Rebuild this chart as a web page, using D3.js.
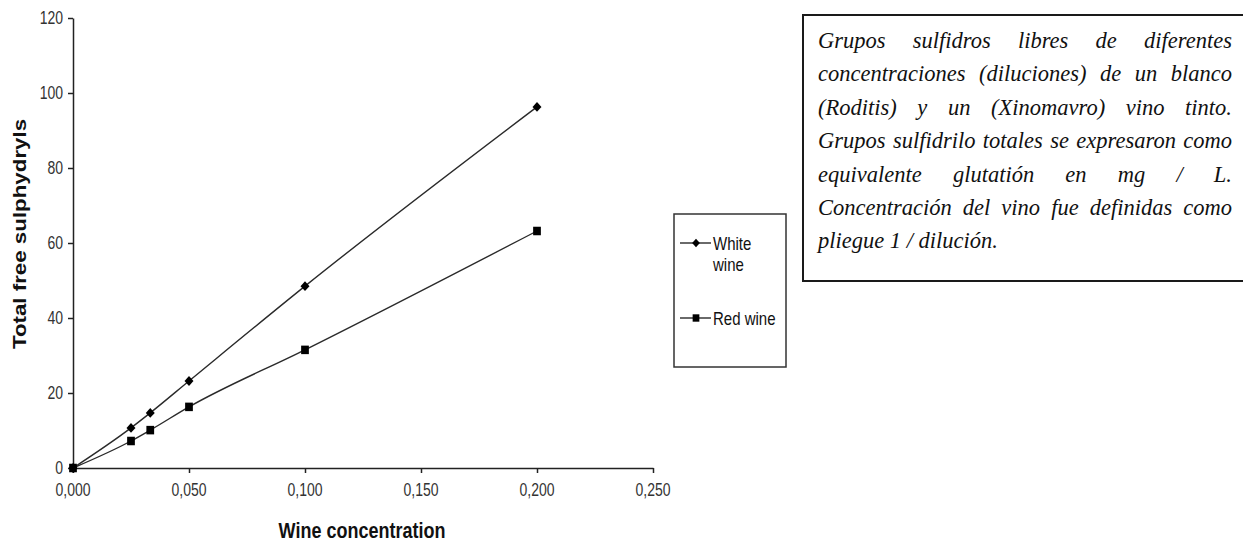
<!DOCTYPE html>
<html>
<head>
<meta charset="utf-8">
<script src="https://cdn.jsdelivr.net/npm/d3@7"></script>
<style>
  html, body { margin: 0; padding: 0; background: #fff; overflow: hidden; }
  #wrap { position: relative; width: 1243px; height: 543px; }
  svg { position: absolute; left: 0; top: 0; }
  #note {
    position: absolute; left: 802px; top: 14px; width: 480px; height: 268px;
    border: 2px solid #1a1a1a; box-sizing: border-box;
  }
  #noteText {
    position: absolute; left: 818px; top: 24px; width: 414px;
    font-family: "Liberation Serif", "Times New Roman", serif; font-style: italic;
    font-size: 22.5px; line-height: 33.4px; color: #111;
  }
  #noteText div { text-align: justify; text-align-last: justify; white-space: nowrap; }
  #noteText div.last { text-align: left; text-align-last: left; }
</style>
</head>
<body>
<div id="wrap">
  <svg id="chart" width="1243" height="543"></svg>
  <div id="note"></div>
  <div id="noteText"></div>
</div>
<script>
// ---- data ----
const concentrations = [0, 0.025, 0.0333, 0.05, 0.1, 0.2];
const whiteWine = [0, 10.7, 14.7, 23.2, 48.5, 96.3];
const redWine = [0, 7.2, 10.1, 16.3, 31.5, 63.2];
const seriesNames = ["White wine", "Red wine"];
const xTicks = [0, 0.05, 0.1, 0.15, 0.2, 0.25];
const xTickLabels = ["0,000", "0,050", "0,100", "0,150", "0,200", "0,250"];
const yTicks = [0, 20, 40, 60, 80, 100, 120];
const yTickLabels = ["0", "20", "40", "60", "80", "100", "120"];
const xTitle = "Wine concentration";
const yTitle = "Total free sulphydryls";
const noteLines = [
  "Grupos sulfidros libres de diferentes",
  "concentraciones (diluciones) de un blanco",
  "(Roditis) y un (Xinomavro) vino tinto.",
  "Grupos sulfidrilo totales se expresaron como",
  "equivalente glutatión en mg / L.",
  "Concentración del vino fue definidas como",
  "pliegue 1 / dilución."
];

// ---- chart ----
const svg = d3.select("#chart");
const x = d3.scaleLinear().domain([0, 0.25]).range([73, 653]);
const y = d3.scaleLinear().domain([0, 120]).range([468, 18]);
const axisColor = "#222";

// axes
const gx = svg.append("g").attr("transform", `translate(0,${y(0)})`)
  .call(d3.axisBottom(x).tickValues(xTicks).tickSize(5).tickSizeOuter(0).tickFormat(""));
const gy = svg.append("g").attr("transform", `translate(${x(0)},0)`)
  .call(d3.axisLeft(y).tickValues(yTicks).tickSize(5).tickSizeOuter(0).tickFormat(""));
[gx, gy].forEach(g => {
  g.selectAll("path, line").attr("stroke", axisColor).attr("stroke-width", 1.5);
});

// tick labels
svg.append("g").selectAll("text").data(xTicks).join("text")
  .attr("transform", d => `translate(${x(d)},490) scale(1,1.3)`)
  .attr("text-anchor", "middle").attr("dy", "0.35em")
  .attr("font-family", "Liberation Sans, Arial, sans-serif").attr("font-size", 14)
  .attr("fill", "#333")
  .text((d, i) => xTickLabels[i]);
svg.append("g").selectAll("text").data(yTicks).join("text")
  .attr("transform", d => `translate(63,${y(d)}) scale(1,1.3)`)
  .attr("text-anchor", "end").attr("dy", "0.35em")
  .attr("font-family", "Liberation Sans, Arial, sans-serif").attr("font-size", 14)
  .attr("fill", "#333")
  .text((d, i) => yTickLabels[i]);

// titles
svg.append("text")
  .attr("transform", "translate(362,530) scale(1,1.2)")
  .attr("text-anchor", "middle").attr("dy", "0.35em")
  .attr("font-family", "Liberation Sans, Arial, sans-serif").attr("font-size", 18)
  .attr("font-weight", "bold").attr("fill", "#111")
  .text(xTitle);
svg.append("text")
  .attr("transform", "translate(20,234) rotate(-90) scale(1.24,1)")
  .attr("text-anchor", "middle").attr("dy", "0.35em")
  .attr("font-family", "Liberation Sans, Arial, sans-serif").attr("font-size", 18)
  .attr("font-weight", "bold").attr("fill", "#111")
  .text(yTitle);

// lines + markers
const series = [
  { name: seriesNames[0], values: whiteWine, symbol: d3.symbolSquare, size: 40, rot: 45 },
  { name: seriesNames[1], values: redWine, symbol: d3.symbolSquare, size: 60, rot: 0 }
];
const line = d3.line().x(d => x(d[0])).y(d => y(d[1])).curve(d3.curveMonotoneX);
series.forEach(s => {
  const pts = concentrations.map((c, i) => [c, s.values[i]]);
  svg.append("path").datum(pts).attr("d", line)
    .attr("fill", "none").attr("stroke", "#2a2a2a").attr("stroke-width", 1.4);
  svg.append("g").selectAll("path").data(pts).join("path")
    .attr("transform", d => `translate(${x(d[0])},${y(d[1])}) scale(1,1.1) rotate(${s.rot})`)
    .attr("d", d3.symbol().type(s.symbol).size(s.size))
    .attr("fill", "#000");
});

// legend
const lg = svg.append("g");
lg.append("rect").attr("x", 674).attr("y", 214).attr("width", 112).attr("height", 153)
  .attr("fill", "#fff").attr("stroke", "#333").attr("stroke-width", 1.5);
const legendRows = [
  { s: series[0], y: 243, lines: ["White", "wine"] },
  { s: series[1], y: 318, lines: ["Red wine"] }
];
legendRows.forEach(r => {
  lg.append("line").attr("x1", 680).attr("x2", 711).attr("y1", r.y).attr("y2", r.y)
    .attr("stroke", "#2a2a2a").attr("stroke-width", 1.4);
  lg.append("path").attr("transform", `translate(696,${r.y}) scale(1,1.1) rotate(${r.s.rot})`)
    .attr("d", d3.symbol().type(r.s.symbol).size(r.s.size * 0.75)).attr("fill", "#000");
  r.lines.forEach((t, i) => {
    lg.append("text")
      .attr("transform", `translate(713,${r.y + i * 21}) scale(1,1.25)`)
      .attr("dy", "0.35em")
      .attr("font-family", "Liberation Sans, Arial, sans-serif").attr("font-size", 15)
      .attr("fill", "#111")
      .text(t);
  });
});

// note text
d3.select("#noteText").selectAll("div").data(noteLines).join("div")
  .attr("class", (d, i) => i === noteLines.length - 1 ? "last" : null)
  .text(d => d);
</script>
</body>
</html>
